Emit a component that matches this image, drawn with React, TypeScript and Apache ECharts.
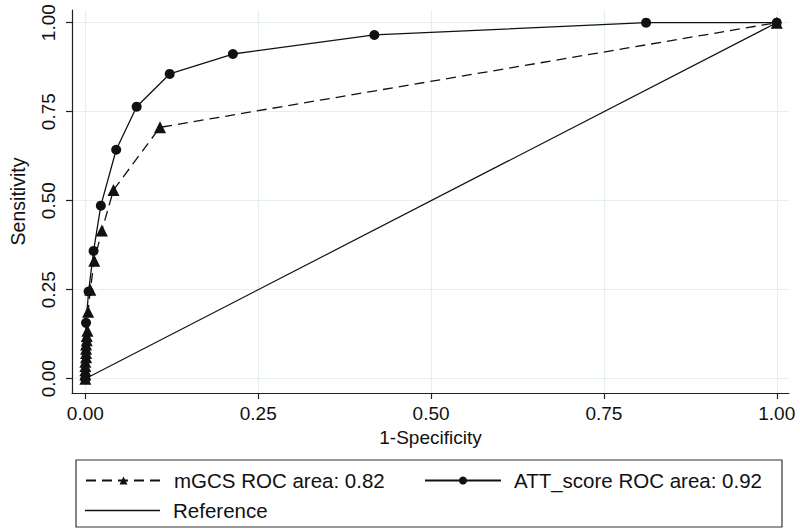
import React, { useEffect, useRef } from "react";
import * as echarts from "echarts";

const tickValues = [0, 0.25, 0.5, 0.75, 1];

const mgcsX = [0, 0, 0, 0, 0, 0.001, 0.001, 0.001, 0.001, 0.002, 0.002, 0.003, 0.004, 0.0072, 0.0129, 0.0239, 0.0407, 0.108, 1];
const mgcsY = [0, 0.012, 0.024, 0.036, 0.048, 0.06, 0.072, 0.084, 0.096, 0.108, 0.12, 0.135, 0.188, 0.25, 0.331, 0.416, 0.53, 0.706, 1];

const attX = [0, 0.001, 0.0047, 0.0119, 0.0224, 0.0446, 0.0742, 0.122, 0.2134, 0.418, 0.811, 1];
const attY = [0, 0.157, 0.245, 0.359, 0.486, 0.643, 0.764, 0.856, 0.912, 0.9655, 1, 1];

const refX = [0, 1];
const refY = [0, 1];

const seriesNames = ["mGCS ROC area: 0.82", "ATT_score ROC area: 0.92", "Reference"];

const FONT = "'Liberation Sans', Arial, Helvetica, sans-serif";

function zip(xs: number[], ys: number[]) {
  return xs.map((x, i) => [x, ys[i]]);
}

export default function App() {
  const ref = useRef<HTMLDivElement>(null);
  useEffect(() => {
    if (!ref.current) return;
    const chart = echarts.init(ref.current, undefined, { renderer: "svg" });
    const gridColor = "#e6eef1";
    const axisColor = "#222";
    const legendText = { fontSize: 20.5, color: "#111", fontFamily: FONT, padding: [0, 0, 0, 8] };
    chart.setOption({
      animation: false,
      backgroundColor: "#fff",
      textStyle: { fontFamily: FONT },
      grid: { left: 68, right: 11, top: 10, bottom: 139, containLabel: false },
      xAxis: {
        type: "value",
        min: -0.0193,
        max: 1.0177,
        axisLine: { show: true, onZero: false, lineStyle: { color: axisColor, width: 1.2 } },
        axisTick: { show: true, customValues: tickValues, length: 6, lineStyle: { color: axisColor, width: 1.2 } },
        axisLabel: {
          customValues: tickValues,
          formatter: (v: number) => v.toFixed(2),
          fontSize: 19,
          color: "#111",
          margin: 11,
          fontFamily: FONT,
        },
        splitLine: { show: true, lineStyle: { color: gridColor, width: 1.2 } },
        name: "1-Specificity",
        nameLocation: "middle",
        nameGap: 33,
        nameTextStyle: { fontSize: 19, color: "#111", fontFamily: FONT },
      },
      yAxis: {
        type: "value",
        min: -0.0401,
        max: 1.0356,
        axisLine: { show: true, onZero: false, lineStyle: { color: axisColor, width: 1.2 } },
        axisTick: { show: true, customValues: tickValues, length: 6, lineStyle: { color: axisColor, width: 1.2 } },
        axisLabel: {
          customValues: tickValues,
          formatter: (v: number) => v.toFixed(2),
          fontSize: 19,
          color: "#111",
          margin: 14,
          rotate: 90,
          fontFamily: FONT,
        },
        splitLine: { show: true, lineStyle: { color: gridColor, width: 1.2 } },
        name: "Sensitivity",
        nameLocation: "middle",
        nameGap: 44,
        nameTextStyle: { fontSize: 19.5, color: "#111", fontFamily: FONT },
      },
      legend: [
        {
          left: 85,
          top: 470,
          padding: 0,
          itemWidth: 75,
          itemHeight: 10,
          data: [seriesNames[0]],
          textStyle: legendText,
          selectedMode: false,
        },
        {
          left: 424,
          top: 470,
          padding: 0,
          itemWidth: 76,
          itemHeight: 10,
          data: [seriesNames[1]],
          textStyle: legendText,
          selectedMode: false,
        },
        {
          left: 85,
          top: 500,
          padding: 0,
          itemWidth: 75,
          itemHeight: 1.4,
          data: [{ name: seriesNames[2], icon: "rect" }],
          textStyle: legendText,
          selectedMode: false,
        },
      ],
      graphic: [
        {
          type: "rect",
          shape: { x: 76, y: 460, width: 706, height: 67 },
          style: { fill: "none", stroke: "#333", lineWidth: 1.2 },
          silent: true,
        },
      ],
      series: [
        {
          name: seriesNames[2],
          type: "line",
          data: zip(refX, refY),
          symbol: "none",
          lineStyle: { color: "#111", width: 1.2 },
          itemStyle: { color: "#111" },
          z: 1,
        },
        {
          name: seriesNames[0],
          type: "line",
          data: zip(mgcsX, mgcsY),
          symbol: "triangle",
          symbolSize: 12,
          lineStyle: { color: "#111", width: 1.3, type: [10, 6] },
          itemStyle: { color: "#111" },
          z: 2,
        },
        {
          name: seriesNames[1],
          type: "line",
          data: zip(attX, attY),
          symbol: "circle",
          symbolSize: 10,
          lineStyle: { color: "#111", width: 1.3 },
          itemStyle: { color: "#111" },
          z: 3,
        },
      ],
    });
    return () => chart.dispose();
  }, []);
  return (
    <div
      ref={ref}
      style={{ position: "fixed", left: 0, top: 0, width: 800, height: 532, background: "#fff" }}
    />
  );
}
